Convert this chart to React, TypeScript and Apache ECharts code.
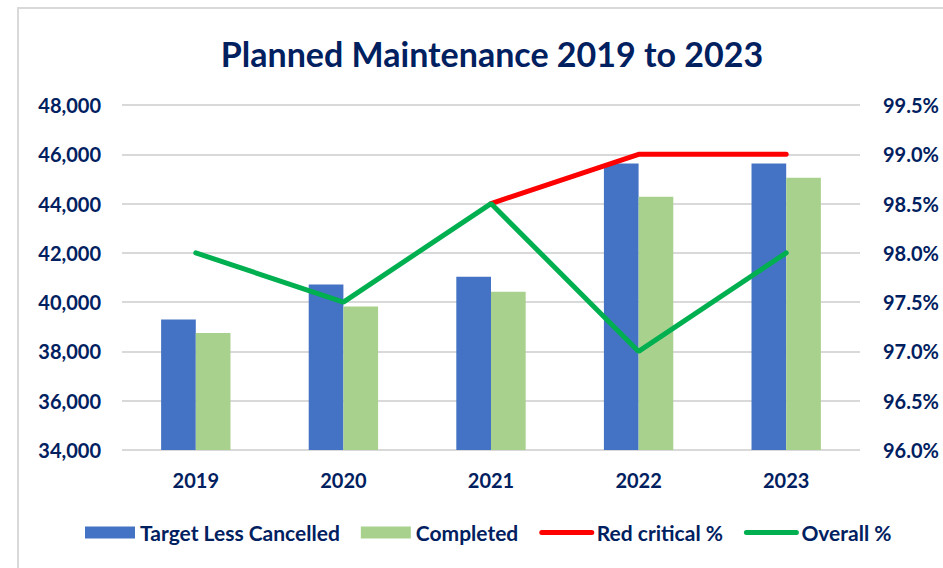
import React, { useEffect, useRef } from "react";
import * as echarts from "echarts";

const categories = ["2019", "2020", "2021", "2022", "2023"];
const targetLessCancelled = [39300, 40720, 41030, 45630, 45630];
const completed = [38750, 39820, 40420, 44280, 45050];
const redCritical: (number | null)[] = [null, null, 98.5, 99.0, 99.0];
const overall = [98.0, 97.5, 98.5, 97.0, 98.0];

const NAVY = "#002060";
const FONT = "Lato";

export default function App() {
  const ref = useRef<HTMLDivElement>(null);
  useEffect(() => {
    if (!ref.current) return;
    const chart = echarts.init(ref.current, undefined, { renderer: "svg" });
    chart.setOption({
      animation: false,
      backgroundColor: "#ffffff",
      textStyle: { fontFamily: FONT },
      graphic: [
        {
          type: "rect",
          shape: { x: 18, y: 8, width: 1200, height: 1200 },
          style: { fill: "none", stroke: "#d9d9d9", lineWidth: 2 },
          silent: true,
        },
      ],
      title: {
        text: "Planned Maintenance 2019 to 2023",
        left: 487,
        textAlign: "center",
        top: 31,
        textStyle: { fontFamily: FONT, fontWeight: "bold", fontSize: 34, color: NAVY },
      },
      legend: {
        bottom: 20,
        left: 80,
        itemWidth: 50,
        itemHeight: 12,
        itemGap: 21,
        textStyle: { fontFamily: FONT, fontWeight: "bold", fontSize: 21, color: NAVY },
        data: [
          { name: "Target Less Cancelled", icon: "rect" },
          { name: "Completed", icon: "rect" },
          {
            name: "Red critical %",
            itemStyle: { color: "rgba(0,0,0,0)", borderWidth: 0 },
            lineStyle: { width: 5, cap: "round" },
          },
          {
            name: "Overall %",
            itemStyle: { color: "rgba(0,0,0,0)", borderWidth: 0 },
            lineStyle: { width: 5, cap: "round" },
          },
        ],
      },
      grid: { left: 122, right: 83, top: 105, bottom: 118, containLabel: false },
      xAxis: {
        type: "category",
        data: categories,
        axisLine: { show: false },
        axisTick: { show: false },
        axisLabel: { margin: 20, fontFamily: FONT, fontWeight: "bold", fontSize: 20, color: NAVY },
      },
      yAxis: [
        {
          type: "value",
          min: 34000,
          max: 48000,
          interval: 2000,
          axisLine: { show: false },
          axisTick: { show: false },
          splitLine: { lineStyle: { color: "#d9d9d9", width: 2 } },
          axisLabel: {
            margin: 21,
            fontFamily: FONT,
            fontWeight: "bold",
            fontSize: 20,
            color: NAVY,
            formatter: (v: number) => v.toLocaleString("en-US"),
          },
        },
        {
          type: "value",
          min: 96,
          max: 99.5,
          interval: 0.5,
          axisLine: { show: false },
          axisTick: { show: false },
          splitLine: { show: false },
          axisLabel: {
            margin: 23,
            fontFamily: FONT,
            fontWeight: "bold",
            fontSize: 20,
            color: NAVY,
            formatter: (v: number) => v.toFixed(1) + "%",
          },
        },
      ],
      series: [
        {
          name: "Target Less Cancelled",
          type: "bar",
          data: targetLessCancelled,
          barGap: "0%",
          barCategoryGap: "53%",
          itemStyle: { color: "#4472C4" },
        },
        {
          name: "Completed",
          type: "bar",
          data: completed,
          itemStyle: { color: "#A9D18E" },
        },
        {
          name: "Red critical %",
          type: "line",
          yAxisIndex: 1,
          data: redCritical,
          symbol: "none",
          lineStyle: { color: "#FF0000", width: 5, cap: "round" },
          itemStyle: { color: "#FF0000" },
        },
        {
          name: "Overall %",
          type: "line",
          yAxisIndex: 1,
          data: overall,
          symbol: "none",
          lineStyle: { color: "#00B050", width: 5, cap: "round" },
          itemStyle: { color: "#00B050" },
        },
      ],
    });
    return () => chart.dispose();
  }, []);
  return (
    <div
      ref={ref}
      style={{ position: "fixed", left: 0, top: 0, width: 943, height: 568 }}
    />
  );
}
